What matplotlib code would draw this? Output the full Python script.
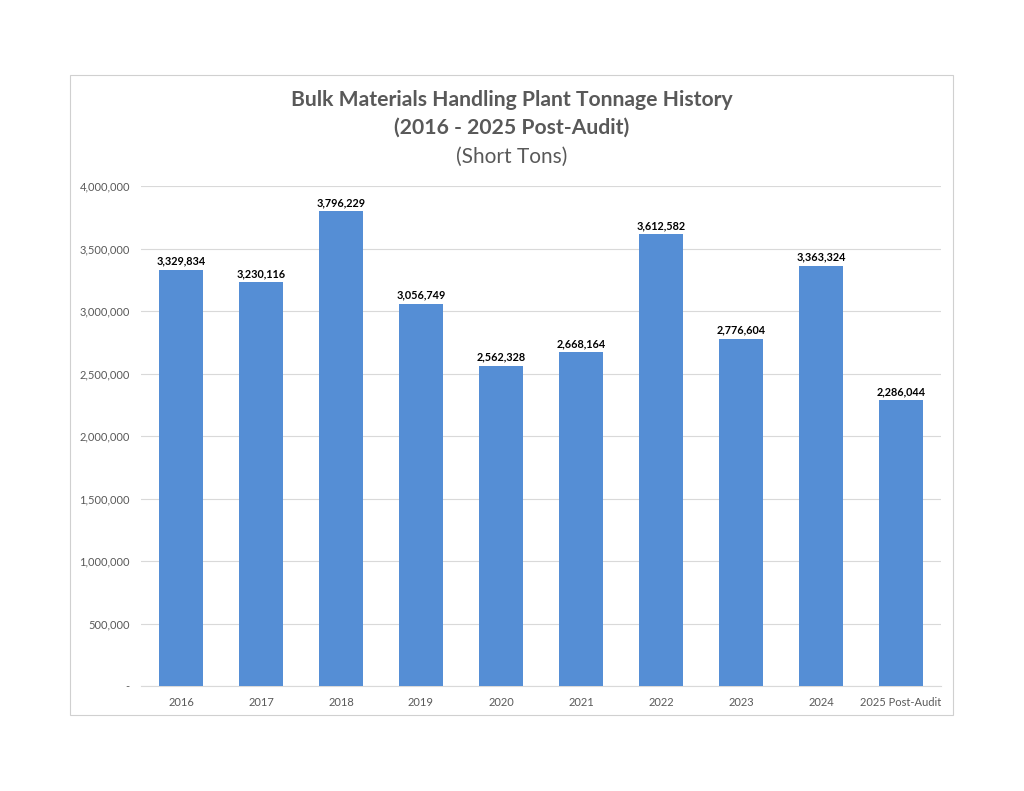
import matplotlib
matplotlib.use("Agg")
import matplotlib.pyplot as plt
from matplotlib.patches import Rectangle
from matplotlib.ticker import FuncFormatter

# Tonnage data
years = ["2016", "2017", "2018", "2019", "2020", "2021", "2022", "2023", "2024", "2025 Post-Audit"]
tons = [3329834, 3230116, 3796229, 3056749, 2562328, 2668164, 3612582, 2776604, 3363324, 2286044]
y_ticks = [0, 500000, 1000000, 1500000, 2000000, 2500000, 3000000, 3500000, 4000000]

BAR_COLOR = "#558ED5"
TEXT_GRAY = "#595959"
GRID_GRAY = "#D9D9D9"

plt.rcParams["font.family"] = ["Lato", "DejaVu Sans"]

fig = plt.figure(figsize=(10.24, 7.91), dpi=100)
W, H = 1024, 791

# chart frame
fig.patches.append(Rectangle((70 / W, 1 - 715 / H), (953 - 70) / W, (715 - 75) / H,
                             transform=fig.transFigure, fill=False,
                             edgecolor="#D0D0D0", linewidth=0.8))

ax = fig.add_axes([141 / W, 1 - 686 / H, (941 - 141) / W, (686 - 186) / H])
x = range(len(years))
bars = ax.bar(x, tons, width=0.54, color=BAR_COLOR, zorder=3)

for rect, val in zip(bars, tons):
    ax.text(rect.get_x() + rect.get_width() / 2, val + 25000, f"{val:,}",
            ha="center", va="bottom", fontsize=7.8, fontweight="bold", color="black")

ax.set_xlim(-0.5, len(years) - 0.5)
ax.set_ylim(0, 4000000)
ax.set_yticks(y_ticks)
ax.yaxis.set_major_formatter(FuncFormatter(lambda v, p: "-" if v == 0 else f"{int(v):,}"))
ax.set_xticks(list(x))
ax.set_xticklabels(years)
ax.tick_params(axis="both", length=0, labelsize=8, colors=TEXT_GRAY)
ax.tick_params(axis="y", pad=8)
ax.tick_params(axis="x", pad=8)
ax.grid(axis="y", color=GRID_GRAY, linewidth=0.8, zorder=0)
for s in ["top", "right", "left"]:
    ax.spines[s].set_visible(False)
ax.spines["bottom"].set_color(GRID_GRAY)

cx = 0.5 * (70 + 953) / W
fig.text(cx, 1 - 100 / H, "Bulk Materials Handling Plant Tonnage History",
         ha="center", va="center", fontsize=15.2, fontweight="bold", color=TEXT_GRAY)
fig.text(cx, 1 - 128 / H, "(2016 - 2025 Post-Audit)",
         ha="center", va="center", fontsize=15.2, fontweight="bold", color=TEXT_GRAY)
fig.text(cx, 1 - 157 / H, "(Short Tons)",
         ha="center", va="center", fontsize=15, color=TEXT_GRAY)

fig.savefig("out.png", dpi=100, facecolor="white")
